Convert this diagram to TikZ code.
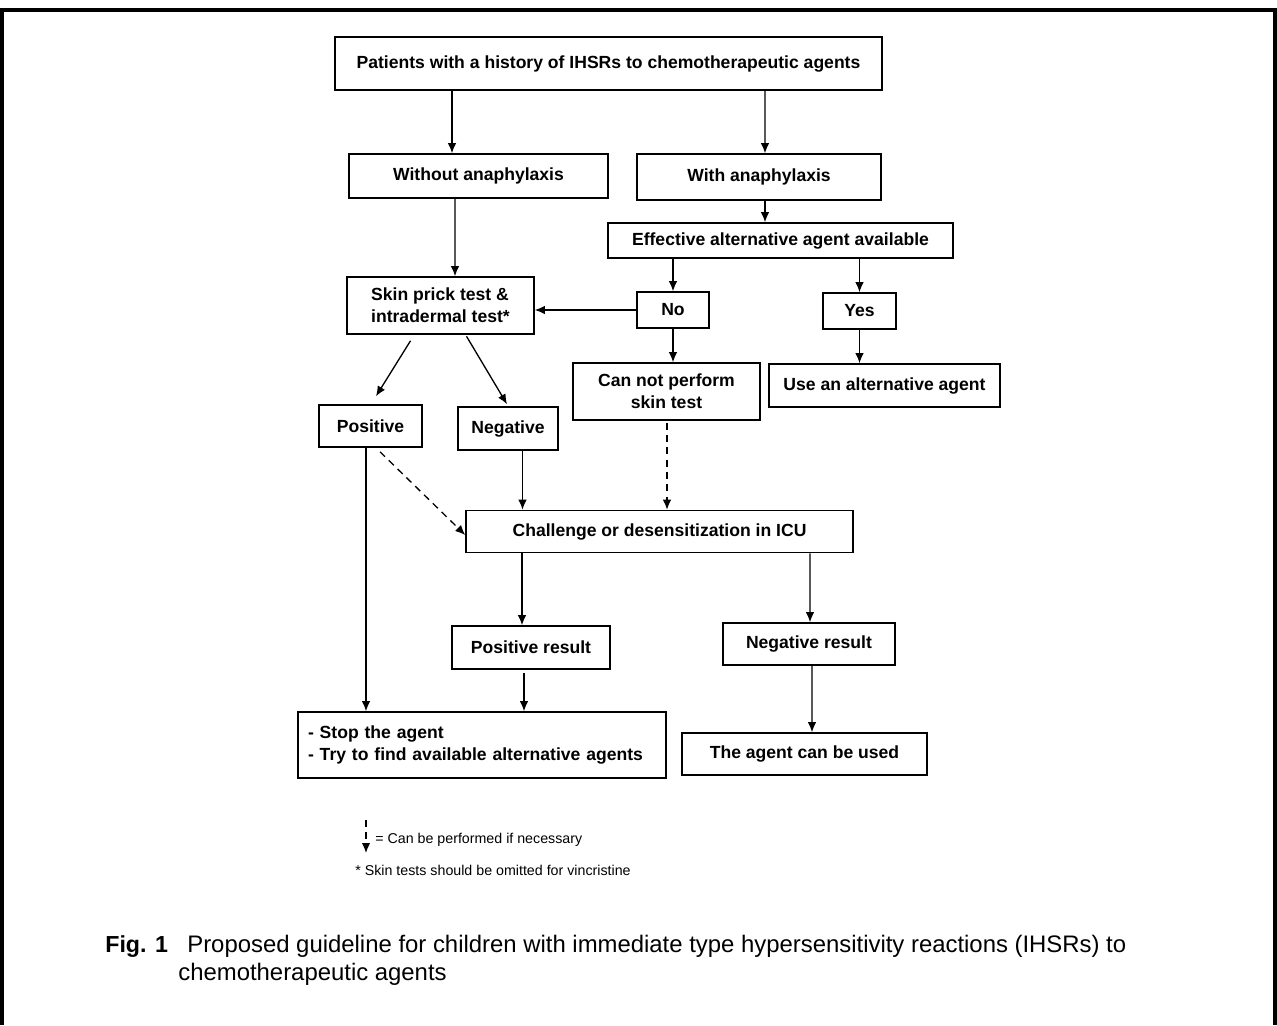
\documentclass[tikz,border=0pt]{standalone}
\usepackage{fontspec}
\setmainfont{Liberation Sans}
\usetikzlibrary{arrows.meta,calc}

\tikzset{
  box/.style={draw, line width=0.9pt, inner sep=0pt, align=center,
    font=\fontsize{10}{12.5}\selectfont\bfseries},
  arr/.style={-{Latex[length=0.2cm,width=0.17cm]}, line width=0.75pt},
  maybe/.style={arr, dash pattern=on 4pt off 3pt},
  note/.style={anchor=base west, inner sep=0pt, font=\fontsize{8.1}{10}\selectfont},
  capt/.style={anchor=base west, inner sep=0pt, font=\fontsize{13.6}{16}\selectfont},
}

\begin{document}
\begin{tikzpicture}[x=0.02cm,y=-0.02cm]
                \useasboundingbox (0,0) rectangle (1277,1025);
                % frame
                \draw[line width=2.3pt] (2,1025) -- (2,10) -- (1275,10) -- (1275,1025);

                % boxes
                \node[box, minimum width=10.94cm, minimum height=1.06cm] (top) at (608.5,63.5) {Patients with a history of IHSRs to chemotherapeutic agents};
                \node[box, minimum width=5.18cm, minimum height=0.88cm] (without) at (478.5,176) {Without anaphylaxis};
                \node[box, minimum width=4.88cm, minimum height=0.92cm] (with) at (759,177) {With anaphylaxis};
                \node[box, minimum width=6.9cm, minimum height=0.7cm] (effective) at (780.5,240.5) {Effective alternative agent available};
                \node[box, align=left, minimum width=3.74cm, minimum height=1.14cm] (skin) at (440.5,305.5) {Skin prick test \&\\intradermal test*};
                \node[box, minimum width=1.44cm, minimum height=0.72cm] (no) at (673,310) {No};
                \node[box, minimum width=1.46cm, minimum height=0.72cm] (yes) at (859.5,311) {Yes};
                \node[box, minimum width=3.74cm, minimum height=1.14cm] (cannot) at (666.5,391.5) {Can not perform\\skin test};
                \node[box, minimum width=4.62cm, minimum height=0.86cm] (use) at (884.5,385.5) {Use an alternative agent};
                \node[box, minimum width=2.06cm, minimum height=0.84cm] (positive) at (370.5,426) {Positive};
                \node[box, minimum width=2cm, minimum height=0.86cm] (negative) at (508,428.5) {Negative};
                \node[box, minimum width=7.74cm, minimum height=0.84cm] (challenge) at (659.5,531.5) {Challenge or desensitization in ICU};
                \node[box, minimum width=3.16cm, minimum height=0.86cm] (posres) at (531,647.5) {Positive result};
                \node[box, minimum width=3.44cm, minimum height=0.84cm] (negres) at (809,644) {Negative result};
                \node[box, align=left, inner xsep=0.2cm, text width=6.96cm, minimum height=1.32cm] (stop) at (482,745) {- Stop the agent\\- Try to find available alternative agents};
                \node[box, minimum width=4.9cm, minimum height=0.84cm] (used) at (804.5,754) {The agent can be used};

                % connectors
                \draw[arr] ($(top.south)+(-156.5,0)$) -- ($(without.north)+(-26.5,0)$);
                \draw[arr] ($(top.south)+(156.5,0)$) -- ($(with.north)+(6,0)$);
                \draw[arr] ($(with.south)+(6,0)$) -- ($(effective.north)+(-15.5,0)$);
                \draw[arr] ($(without.south)+(-23.5,0)$) -- ($(skin.north)+(14.5,0)$);
                \draw[arr] (effective.south -| no.north) -- (no.north);
                \draw[arr] (effective.south -| yes.north) -- (yes.north);
                \draw[arr] (no.west) -- (no.west -| skin.east);
                \draw[arr] (no.south) -- (no.south |- cannot.north);
                \draw[arr] (yes.south) -- (yes.south |- use.north);
                \draw[arr] ($(skin.south)+(-30,6)$) -- ($(positive.north)+(5.5,-8)$);
                \draw[arr] ($(skin.south)+(26,1.5)$) -- ($(negative.north)+(-1,-2)$);
                \draw[arr] ($(positive.south)+(-4.5,0)$) -- ($(stop.north)+(-116,0)$);
                \draw[maybe] ($(positive.south)+(9.5,4)$) -- ($(challenge.west)+(0,3.5)$);
                \draw[arr] ($(negative.south)+(14.5,0)$) -- ($(challenge.north)+(-137,0)$);
                \draw[maybe] ($(cannot.south)+(0.5,2)$) -- ($(challenge.north)+(7.5,0)$);
                \draw[arr] ($(challenge.south)+(-137.5,0)$) -- ($(posres.north)+(-9,0)$);
                \draw[arr] ($(challenge.south)+(150.5,0)$) -- ($(negres.north)+(1,0)$);
                \draw[arr] ($(posres.south)+(-7,3)$) -- ($(stop.north)+(42,0)$);
                \draw[arr] ($(negres.south)+(3,0)$) -- ($(used.north)+(7.5,0)$);

                % legend
                \coordinate (leg1) at (366,820);
                \coordinate (leg2) at (366,853);
                \draw[maybe] (leg1) -- (leg2);
                \node[note] (legdash) at (375,843) {= Can be performed if necessary};
                \node[note] (legstar) at (355,875) {* Skin tests should be omitted for vincristine};

                % caption
                \node[capt, font=\fontsize{13.2}{16}\selectfont\bfseries] (fig) at (105,952) {Fig. 1};
                \node[capt] (capa) at (187,952) {Proposed guideline for children with immediate type hypersensitivity reactions (IHSRs) to};
                \node[capt] (capb) at (178,980) {chemotherapeutic agents};
            \end{tikzpicture}
\end{document}
